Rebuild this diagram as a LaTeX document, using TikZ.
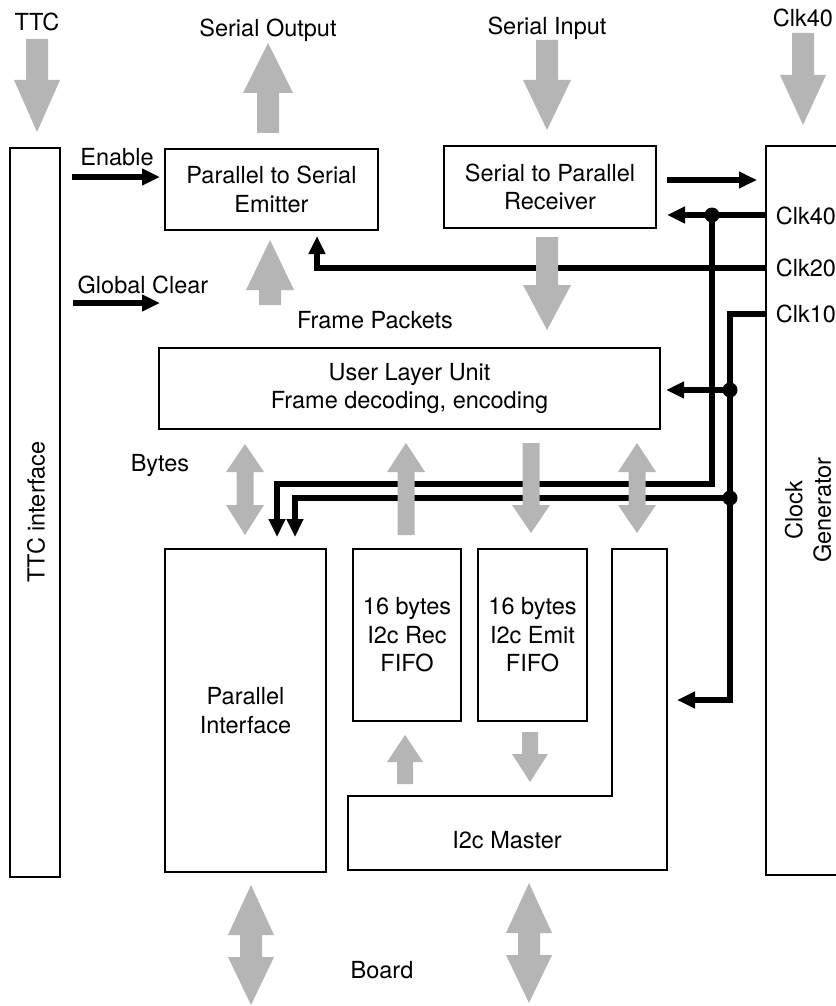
\documentclass[tikz,border=0pt]{standalone}
\usepackage{fontspec}
\setmainfont{TeX Gyre Heros}
\usetikzlibrary{arrows.meta}
\tikzset{
  box/.style={draw, line width=1.4pt, fill=white, inner sep=0pt, align=center},
  lbl/.style={inner sep=0pt, align=center},
  wire/.style={line width=5.5pt, line join=miter},
  wtip/.style={-{Triangle[length=18pt,width=16pt]}},
  garrow/.style={fill=gray!58},
  jdot/.style={circle, fill=black, inner sep=0pt, minimum size=15pt},
}
% single gray block arrow: x, tip y, head base y, tail y, shaft half width, head half width
\newcommand\gsingle[6]{\fill[garrow] ({#1-#5},#4) -- ({#1-#5},#3) -- ({#1-#6},#3) -- (#1,#2) -- ({#1+#6},#3) -- ({#1+#5},#3) -- ({#1+#5},#4) -- cycle;}
% double gray block arrow: x, tip1, base1, base2, tip2, shaft half width, head half width
\newcommand\gdouble[7]{\fill[garrow] (#1,#2) -- ({#1+#7},#3) -- ({#1+#6},#3) -- ({#1+#6},#4) -- ({#1+#7},#4) -- (#1,#5) -- ({#1-#7},#4) -- ({#1-#6},#4) -- ({#1-#6},#3) -- ({#1-#7},#3) -- cycle;}
\begin{document}
\begin{tikzpicture}[x=1pt,y=-1pt,font=\fontsize{23.5}{28.5}\selectfont]
\useasboundingbox (0,0) rectangle (835,1006);

% ---------- boxes ----------
\node[box, minimum width=50pt, minimum height=729pt] (ttc) at (35,512.5) {};
\node[lbl, rotate=90] (ttclbl) at (36,512) {TTC interface};
\node[box, minimum width=213pt, minimum height=81pt] (emit) at (271.5,189.5) {Parallel to Serial\\Emitter};
\node[box, minimum width=212pt, minimum height=82pt] (recv) at (550,187) {Serial to Parallel\\Receiver};
\node[box, minimum width=501pt, minimum height=81pt] (ulu) at (409.5,388.5) {User Layer Unit\\Frame decoding, encoding};
\node[box, minimum width=161pt, minimum height=323pt] (pif) at (245.5,710.5) {Parallel\\Interface};
\node[box, minimum width=108pt, minimum height=172pt] (fifor) at (407,635) {16 bytes\\I2c Rec\\FIFO};
\node[box, minimum width=109pt, minimum height=172pt] (fifoe) at (532.5,635) {16 bytes\\I2c Emit\\FIFO};
\draw[line width=1.4pt] (348,796) -- (612,796) -- (612,549) -- (667,549) -- (667,870) -- (348,870) -- cycle;
\node[lbl] (master) at (507,840) {I2c Master};
% clock generator (cut by the right edge)
\draw[line width=1.4pt] (840,146) -- (766,146) -- (766,875) -- (840,875);
\node[lbl, rotate=90] (clkgen) at (808,510) {Clock\\Generator};

% ---------- labels ----------
\node[lbl] (lttc) at (37,22) {TTC};
\node[lbl] (lso) at (268,30) {Serial Output};
\node[lbl] (lsi) at (547,28) {Serial Input};
\node[lbl] (lck) at (803,18) {Clk40};
\node[lbl] (len) at (117,157) {Enable};
\node[lbl] (lgc) at (143,285) {Global Clear};
\node[lbl] (lfp) at (375,320) {Frame Packets};
\node[lbl] (lc40) at (806,216) {Clk40};
\node[lbl] (lc20) at (806,268) {Clk20};
\node[lbl] (lc10) at (806,314) {Clk10};
\node[lbl] (lby) at (160,465) {Bytes};
\node[lbl] (lbo) at (382,970) {Board};

% ---------- coordinates for wires ----------
\coordinate (en0) at (72,177);   \coordinate (en1) at (160,177);
\coordinate (gc0) at (73,303);   \coordinate (gc1) at (160,303);
\coordinate (rc0) at (667,180);  \coordinate (rc1) at (757,180);
\coordinate (c40) at (766,215);  \coordinate (c40e) at (667,215);
\coordinate (c40j) at (712,215); \coordinate (c40b) at (712,484);
\coordinate (pa) at (277,484);   \coordinate (pae) at (277,537);
\coordinate (c20) at (766,268);  \coordinate (c20b) at (317,268);
\coordinate (c20e) at (317,236);
\coordinate (c10) at (766,314);  \coordinate (c10a) at (730,314);
\coordinate (c10b) at (730,700); \coordinate (c10e) at (677,700);
\coordinate (j1) at (730,390);   \coordinate (j1e) at (666,390);
\coordinate (j2) at (730,498);   \coordinate (pb) at (295,498);
\coordinate (pbe) at (295,537);

% ---------- black wires ----------
\draw[wire,wtip] (en0) -- (en1);
\draw[wire,wtip] (gc0) -- (gc1);
\draw[wire,wtip] (rc0) -- (rc1);
\draw[wire,wtip] (c40) -- (c40e);
\draw[wire,wtip] (c40j) -- (c40b) -- (pa) -- (pae);
\draw[wire,wtip] (c20) -- (c20b) -- (c20e);
\draw[wire,wtip] (c10) -- (c10a) -- (c10b) -- (c10e);
\draw[wire,wtip] (j1) -- (j1e);
\draw[wire,wtip] (j2) -- (pb) -- (pbe);
\node[jdot] (d1) at (c40j) {};
\node[jdot] (d2) at (j1) {};
\node[jdot] (d3) at (j2) {};

% ---------- gray block arrows ----------
\gsingle{37}{132}{80}{39}{11}{23}
\gsingle{268}{43}{93}{133}{11}{25}
\gsingle{547}{130}{80}{40}{11}{24}
\gsingle{803}{125}{75}{33}{11}{23}
\gsingle{270}{240}{290}{305}{11}{24}
\gsingle{547}{330}{285}{237}{11}{24}
\gdouble{245}{444}{472}{505}{535}{8.5}{19}
\gsingle{406}{443}{472}{535}{8.5}{19}
\gsingle{531}{533}{505}{443}{8.5}{19}
\gdouble{637}{443}{472}{505}{533}{8.5}{19}
\gsingle{405}{735}{762}{784}{8}{18}
\gsingle{530}{782}{754}{732}{8}{18}
\gdouble{251}{885}{935}{957}{1005}{11}{23}
\gdouble{529}{883}{933}{955}{1003}{11}{23}
\end{tikzpicture}
\end{document}
